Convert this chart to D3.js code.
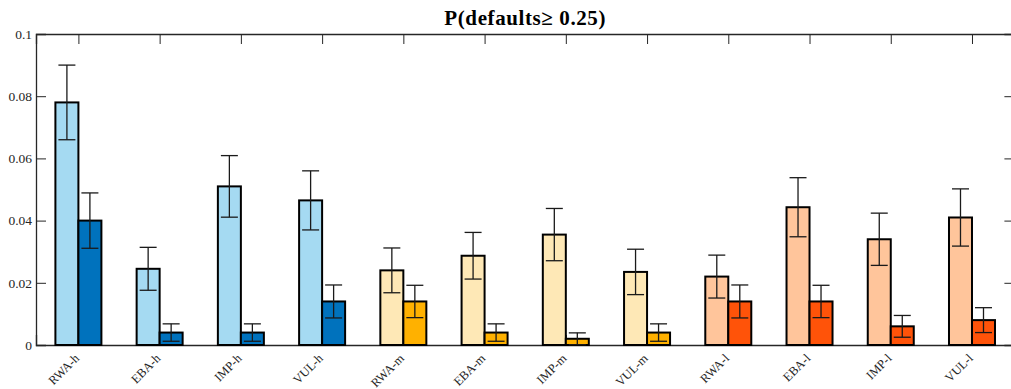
<!DOCTYPE html>
<html>
<head>
<meta charset="utf-8">
<script src="https://cdn.jsdelivr.net/npm/d3@7"></script>
<style>
  html, body { margin: 0; padding: 0; background: #fff; }
  svg { display: block; }
</style>
</head>
<body>
<svg id="chart" width="1011" height="389"></svg>
<script>
// Probability of defaults >= 0.25 per method and exposure level
const categories = ["RWA-h", "EBA-h", "IMP-h", "VUL-h",
                    "RWA-m", "EBA-m", "IMP-m", "VUL-m",
                    "RWA-l", "EBA-l", "IMP-l", "VUL-l"];
const valuesFirst = [0.078, 0.0245, 0.051, 0.0465,
                     0.024, 0.0287, 0.0355, 0.0235,
                     0.022, 0.0443, 0.034, 0.041];
const errorsFirst = [0.012, 0.0069, 0.0099, 0.0095,
                     0.0072, 0.0075, 0.0084, 0.0073,
                     0.0069, 0.0095, 0.0084, 0.0092];
const valuesSecond = [0.040, 0.004, 0.004, 0.014,
                      0.014, 0.004, 0.002, 0.004,
                      0.014, 0.014, 0.006, 0.008];
const errorsSecond = [0.0089, 0.0028, 0.0028, 0.0053,
                      0.0052, 0.0028, 0.0019, 0.0028,
                      0.0053, 0.0052, 0.0035, 0.004];
const yTicks = [0, 0.02, 0.04, 0.06, 0.08, 0.1];
const yTickLabels = ["0", "0.02", "0.04", "0.06", "0.08", "0.1"];
const titleText = "P(defaults\u2265 0.25)";

// colour pairs for the h / m / l levels
const lightColors = ["#a5daf2", "#fee8b6", "#ffc59b"];
const darkColors  = ["#0072bd", "#ffb100", "#ff5309"];

const serif = "'Liberation Serif', 'DejaVu Serif', serif";
const svg = d3.select("#chart");
const plot = { left: 36, right: 1014.4, top: 34, bottom: 345 };

const x = d3.scaleLinear()
  .domain([0.478, categories.length + 0.522])
  .range([plot.left, plot.right]);
const y = d3.scaleLinear().domain([0, 0.1]).range([plot.bottom, plot.top]);

const rows = categories.map((c, i) => ({
  name: c, pos: i + 1, level: Math.floor(i / 4),
  a: valuesFirst[i], ea: errorsFirst[i],
  b: valuesSecond[i], eb: errorsSecond[i]
}));

const barW = 23;
const axisColor = "#262626";

// axes (ticks point inward)
const gL = svg.append("g").attr("transform", `translate(${plot.left},0)`)
  .call(d3.axisLeft(y).tickValues(yTicks)
    .tickFormat((d, i) => yTickLabels[i])
    .tickSize(-10).tickPadding(4));
const gR = svg.append("g").attr("transform", `translate(${plot.right},0)`)
  .call(d3.axisRight(y).tickValues(yTicks).tickFormat("").tickSize(-10));
const gT = svg.append("g").attr("transform", `translate(0,${plot.top})`)
  .call(d3.axisTop(x).tickValues(rows.map(r => r.pos)).tickFormat("").tickSize(-10));
const gB = svg.append("g").attr("transform", `translate(0,${plot.bottom})`)
  .call(d3.axisBottom(x).tickValues(rows.map(r => r.pos))
    .tickFormat((d, i) => categories[i]).tickSize(-10));

[gL, gR, gT, gB].forEach(g => {
  g.attr("font-family", serif);
  g.select(".domain").attr("stroke", axisColor).attr("stroke-width", 1.3);
  g.selectAll(".tick line").attr("stroke", axisColor).attr("stroke-width", 1);
  g.selectAll(".tick text").attr("fill", axisColor);
});
gL.selectAll(".tick text").attr("font-size", 13.5);
gB.selectAll(".tick text")
  .attr("font-size", 12.5)
  .attr("x", 0).attr("y", 0).attr("dy", "0.35em")
  .attr("text-anchor", "end")
  .attr("transform", "translate(-2,11) rotate(-45)");

// bars
const bars = svg.append("g");
bars.selectAll("rect.first").data(rows).join("rect")
  .attr("class", "first")
  .attr("x", d => x(d.pos) - barW)
  .attr("y", d => y(d.a))
  .attr("width", barW)
  .attr("height", d => y(0) - y(d.a))
  .attr("fill", d => lightColors[d.level])
  .attr("stroke", "#000").attr("stroke-width", 2);
bars.selectAll("rect.second").data(rows).join("rect")
  .attr("class", "second")
  .attr("x", d => x(d.pos))
  .attr("y", d => y(d.b))
  .attr("width", barW)
  .attr("height", d => y(0) - y(d.b))
  .attr("fill", d => darkColors[d.level])
  .attr("stroke", "#000").attr("stroke-width", 2);

// error bars
const errs = rows.flatMap(d => [
  { cx: x(d.pos) - barW / 2, v: d.a, e: d.ea },
  { cx: x(d.pos) + barW / 2, v: d.b, e: d.eb }
]);
const capW = 17;
const eg = svg.append("g").attr("stroke", "#1a1a1a").attr("stroke-width", 1.3);
eg.selectAll("line.stem").data(errs).join("line")
  .attr("x1", d => d.cx).attr("x2", d => d.cx)
  .attr("y1", d => y(d.v + d.e)).attr("y2", d => y(d.v - d.e));
eg.selectAll("line.capTop").data(errs).join("line")
  .attr("x1", d => d.cx - capW / 2).attr("x2", d => d.cx + capW / 2)
  .attr("y1", d => y(d.v + d.e)).attr("y2", d => y(d.v + d.e));
eg.selectAll("line.capBot").data(errs).join("line")
  .attr("x1", d => d.cx - capW / 2).attr("x2", d => d.cx + capW / 2)
  .attr("y1", d => y(d.v - d.e)).attr("y2", d => y(d.v - d.e));

// title
svg.append("text")
  .attr("x", (plot.left + plot.right) / 2)
  .attr("y", 25)
  .attr("text-anchor", "middle")
  .attr("font-family", serif)
  .attr("font-weight", "bold")
  .attr("font-size", 21)
  .attr("letter-spacing", 0.6)
  .attr("fill", "#000")
  .text(titleText);
</script>
</body>
</html>
